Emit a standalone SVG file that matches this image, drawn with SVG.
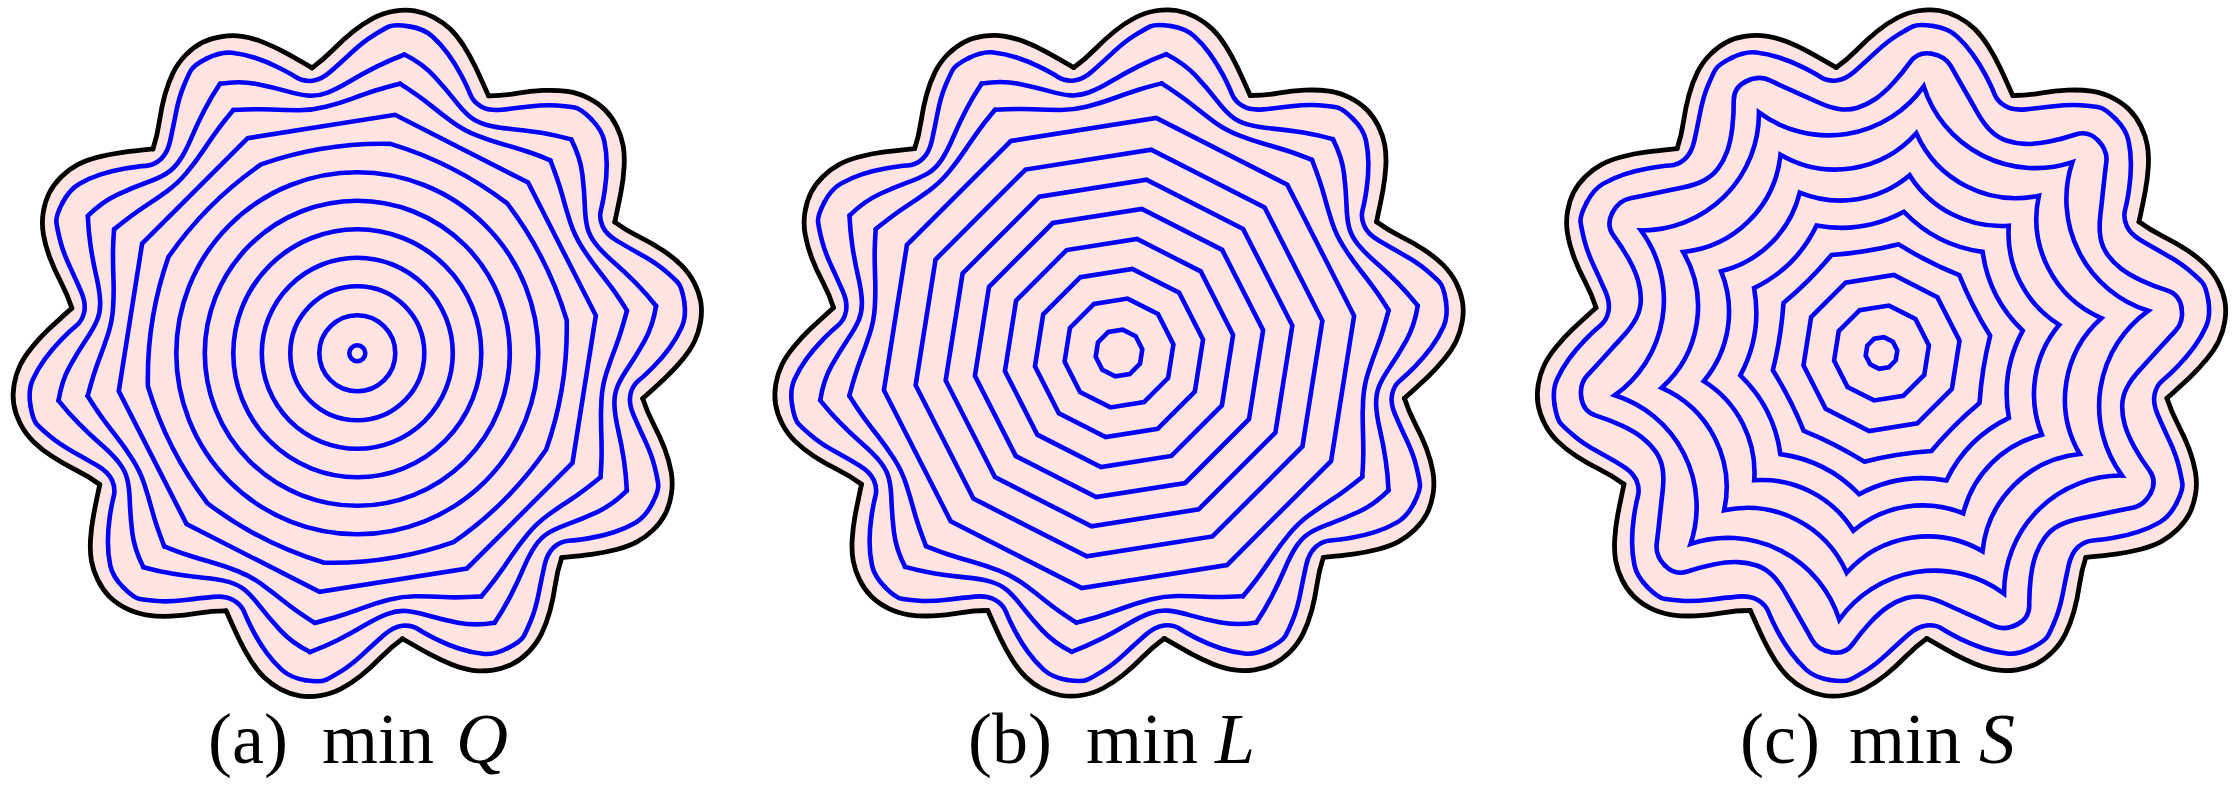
<svg xmlns="http://www.w3.org/2000/svg" width="2232" height="785" viewBox="0 0 2232 785">
<style>
.blue{fill:none;stroke:#0000ff;stroke-width:4.6;stroke-linecap:round;stroke-linejoin:round}
.blk{fill:none;stroke:#000;stroke-width:4.8;stroke-linecap:round;stroke-linejoin:round}
.pink{fill:#ffe4e1;stroke:#ffe4e1;stroke-width:1.5}
.dec{fill:none;stroke:#0000ff;stroke-linejoin:miter;stroke-miterlimit:6}
.cap{font-family:"Liberation Serif","Times New Roman",serif;font-size:72px;fill:#000}
.it{font-style:italic}
</style>
<defs>
<path id="blk" class="blk" d="M -45.21 -285.44 Q -34 -293.5 -24 -303.75 Q -14 -314 -4 -322 Q 6 -330 16 -335.25 Q 26 -340.5 37 -342.25 Q 48 -344 57.5 -342.5 Q 67 -341 76.5 -336 Q 86 -331 93 -324.25 Q 100 -317.5 106.5 -307.25 Q 113 -297 118 -286.5 Q 123 -276 131.2 -257.5"/>
<path id="wedge" class="pink" d="M 0 0 L -45.21 -285.44 Q -34 -293.5 -24 -303.75 Q -14 -314 -4 -322 Q 6 -330 16 -335.25 Q 26 -340.5 37 -342.25 Q 48 -344 57.5 -342.5 Q 67 -341 76.5 -336 Q 86 -331 93 -324.25 Q 100 -317.5 106.5 -307.25 Q 113 -297 118 -286.5 Q 123 -276 131.2 -257.5 Z"/>
<path id="b1" class="blue" d="M -150.27 -294.92 Q -136.9 -301.7 -125.45 -300.5 Q -114 -299.3 -102.35 -295.5 Q -90.7 -291.7 -79.35 -286.1 Q -68 -280.5 -61 -276 Q -54 -271.5 -45 -272.5 Q -36 -273.5 -26.65 -281.75 Q -17.3 -290 -5.65 -300.85 Q 6 -311.7 16 -317.85 Q 26 -324 31.49 -326.64 Q 36.97 -329.28 51.78 -326.93"/>
<path id="b2" class="blue" d="M -137.33 -269.53 Q -117.3 -272.7 -100.65 -269.35 Q -84 -266 -70.65 -262.15 Q -57.3 -258.3 -48.65 -257.65 Q -40 -257 -30.35 -260.5 Q -20.7 -264 -7.35 -272 Q 6 -280 19.35 -286.65 Q 32.7 -293.3 47.32 -298.78"/>
<path id="b3" class="blue" d="M -123.94 -243.25 Q -100.7 -244.5 -86.35 -243.75 Q -72 -243 -58.5 -243 Q -45 -243 -31.5 -246.5 Q -18 -250 -5 -254.75 Q 8 -259.5 18 -262.75 Q 28 -266 42.71 -269.64"/>
<path id="c2" class="blue" d="M -135.42 -271.61 Q -122.89 -277.86 -112.2 -272.83 Q -101.5 -267.8 -88.25 -261.9 Q -75 -256 -63.5 -250.75 Q -52 -245.5 -42.5 -244 Q -33 -242.5 -24 -245.25 Q -15 -248 -6.5 -253.75 Q 2 -259.5 11.5 -269.75 Q 21 -280 28.64 -290.83 Q 36.28 -301.65 50.09 -299.34"/>
<path id="deca" d="M 0.98769 -0.15643 L 0.89101 0.45399 L 0.45399 0.89101 L -0.15643 0.98769 L -0.70711 0.70711 L -0.98769 0.15643 L -0.89101 -0.45399 L -0.45399 -0.89101 L 0.15643 -0.98769 L 0.70711 -0.70711 Z"/>
<g id="fill10"><use href="#wedge"/><use href="#wedge" transform="rotate(36)"/><use href="#wedge" transform="rotate(72)"/><use href="#wedge" transform="rotate(108)"/><use href="#wedge" transform="rotate(144)"/><use href="#wedge" transform="rotate(180)"/><use href="#wedge" transform="rotate(216)"/><use href="#wedge" transform="rotate(252)"/><use href="#wedge" transform="rotate(288)"/><use href="#wedge" transform="rotate(324)"/></g>
<g id="blk10"><use href="#blk"/><use href="#blk" transform="rotate(36)"/><use href="#blk" transform="rotate(72)"/><use href="#blk" transform="rotate(108)"/><use href="#blk" transform="rotate(144)"/><use href="#blk" transform="rotate(180)"/><use href="#blk" transform="rotate(216)"/><use href="#blk" transform="rotate(252)"/><use href="#blk" transform="rotate(288)"/><use href="#blk" transform="rotate(324)"/></g>
<g id="b1x"><use href="#b1"/><use href="#b1" transform="rotate(36)"/><use href="#b1" transform="rotate(72)"/><use href="#b1" transform="rotate(108)"/><use href="#b1" transform="rotate(144)"/><use href="#b1" transform="rotate(180)"/><use href="#b1" transform="rotate(216)"/><use href="#b1" transform="rotate(252)"/><use href="#b1" transform="rotate(288)"/><use href="#b1" transform="rotate(324)"/></g>
<g id="b2x"><use href="#b2"/><use href="#b2" transform="rotate(36)"/><use href="#b2" transform="rotate(72)"/><use href="#b2" transform="rotate(108)"/><use href="#b2" transform="rotate(144)"/><use href="#b2" transform="rotate(180)"/><use href="#b2" transform="rotate(216)"/><use href="#b2" transform="rotate(252)"/><use href="#b2" transform="rotate(288)"/><use href="#b2" transform="rotate(324)"/></g>
<g id="b3x"><use href="#b3"/><use href="#b3" transform="rotate(36)"/><use href="#b3" transform="rotate(72)"/><use href="#b3" transform="rotate(108)"/><use href="#b3" transform="rotate(144)"/><use href="#b3" transform="rotate(180)"/><use href="#b3" transform="rotate(216)"/><use href="#b3" transform="rotate(252)"/><use href="#b3" transform="rotate(288)"/><use href="#b3" transform="rotate(324)"/></g>
<g id="c2x"><use href="#c2"/><use href="#c2" transform="rotate(36)"/><use href="#c2" transform="rotate(72)"/><use href="#c2" transform="rotate(108)"/><use href="#c2" transform="rotate(144)"/><use href="#c2" transform="rotate(180)"/><use href="#c2" transform="rotate(216)"/><use href="#c2" transform="rotate(252)"/><use href="#c2" transform="rotate(288)"/><use href="#c2" transform="rotate(324)"/></g>
</defs>
<rect width="2232" height="785" fill="#fff"/>

<g id="panel-a" transform="translate(357.3,353.3)">
<use href="#fill10"/>
<g id="a-rings">
<circle class="blue" r="8"/>
<circle class="blue" r="38"/>
<circle class="blue" r="67"/>
<circle class="blue" r="95.5"/>
<circle class="blue" r="124"/>
<circle class="blue" r="152.5"/>
<circle class="blue" r="181"/>
<path class="dec" transform="scale(212)" stroke-width="0.021698" d="M 0.98769 -0.15643 A 1.7288 1.7288 0 0 1 0.89101 0.45399 A 1.7288 1.7288 0 0 1 0.45399 0.89101 A 1.7288 1.7288 0 0 1 -0.15643 0.98769 A 1.7288 1.7288 0 0 1 -0.70711 0.70711 A 1.7288 1.7288 0 0 1 -0.98769 0.15643 A 1.7288 1.7288 0 0 1 -0.89101 -0.45399 A 1.7288 1.7288 0 0 1 -0.45399 -0.89101 A 1.7288 1.7288 0 0 1 0.15643 -0.98769 A 1.7288 1.7288 0 0 1 0.70711 -0.70711 A 1.7288 1.7288 0 0 1 0.98769 -0.15643 Z"/>
<use href="#deca" class="dec" transform="scale(241.5)" stroke-width="0.019048"/>
<use href="#b3x"/>
<use href="#b2x"/>
<use href="#b1x"/>
</g>
<use href="#blk10"/>
</g>

<g id="panel-b" transform="translate(1119,353)">
<use href="#fill10"/>
<g id="b-rings">
<use href="#deca" class="dec" transform="scale(23.6)" stroke-width="0.19492"/>
<use href="#deca" class="dec" transform="scale(55.1)" stroke-width="0.083485"/>
<use href="#deca" class="dec" transform="scale(85.1)" stroke-width="0.054054"/>
<use href="#deca" class="dec" transform="scale(115.5)" stroke-width="0.039827"/>
<use href="#deca" class="dec" transform="scale(145.9)" stroke-width="0.031528"/>
<use href="#deca" class="dec" transform="scale(175.5)" stroke-width="0.026211"/>
<use href="#deca" class="dec" transform="scale(205.9)" stroke-width="0.022341"/>
<use href="#deca" class="dec" transform="scale(238)" stroke-width="0.019328"/>
<use href="#b3x"/>
<use href="#b2x"/>
<use href="#b1x"/>
</g>
<use href="#blk10"/>
</g>

<g id="panel-c" transform="translate(1881.5,353)">
<use href="#fill10"/>
<g id="c-rings">
<use href="#deca" class="dec" transform="scale(16)" stroke-width="0.2875"/>
<use href="#deca" class="dec" transform="scale(48)" stroke-width="0.095833"/>
<use href="#deca" class="dec" transform="scale(79)" stroke-width="0.058228"/>
<path class="dec" transform="scale(110)" stroke-width="0.041818" d="M 0.98769 -0.15643 A 3.5082 3.5082 0 0 0 0.89101 0.45399 A 3.5082 3.5082 0 0 0 0.45399 0.89101 A 3.5082 3.5082 0 0 0 -0.15643 0.98769 A 3.5082 3.5082 0 0 0 -0.70711 0.70711 A 3.5082 3.5082 0 0 0 -0.98769 0.15643 A 3.5082 3.5082 0 0 0 -0.89101 -0.45399 A 3.5082 3.5082 0 0 0 -0.45399 -0.89101 A 3.5082 3.5082 0 0 0 0.15643 -0.98769 A 3.5082 3.5082 0 0 0 0.70711 -0.70711 A 3.5082 3.5082 0 0 0 0.98769 -0.15643 Z"/>
<path class="dec" transform="scale(143)" stroke-width="0.032168" d="M 0.98769 -0.15643 A 0.93658 0.93658 0 0 0 0.89101 0.45399 A 0.93658 0.93658 0 0 0 0.45399 0.89101 A 0.93658 0.93658 0 0 0 -0.15643 0.98769 A 0.93658 0.93658 0 0 0 -0.70711 0.70711 A 0.93658 0.93658 0 0 0 -0.98769 0.15643 A 0.93658 0.93658 0 0 0 -0.89101 -0.45399 A 0.93658 0.93658 0 0 0 -0.45399 -0.89101 A 0.93658 0.93658 0 0 0 0.15643 -0.98769 A 0.93658 0.93658 0 0 0 0.70711 -0.70711 A 0.93658 0.93658 0 0 0 0.98769 -0.15643 Z"/>
<path class="dec" transform="scale(180)" stroke-width="0.025556" d="M 0.98769 -0.15643 A 0.59752 0.59752 0 0 0 0.89101 0.45399 A 0.59752 0.59752 0 0 0 0.45399 0.89101 A 0.59752 0.59752 0 0 0 -0.15643 0.98769 A 0.59752 0.59752 0 0 0 -0.70711 0.70711 A 0.59752 0.59752 0 0 0 -0.98769 0.15643 A 0.59752 0.59752 0 0 0 -0.89101 -0.45399 A 0.59752 0.59752 0 0 0 -0.45399 -0.89101 A 0.59752 0.59752 0 0 0 0.15643 -0.98769 A 0.59752 0.59752 0 0 0 0.70711 -0.70711 A 0.59752 0.59752 0 0 0 0.98769 -0.15643 Z"/>
<path class="dec" transform="scale(222.5)" stroke-width="0.020674" d="M 0.98769 -0.15643 A 0.48867 0.48867 0 0 0 0.89101 0.45399 A 0.48867 0.48867 0 0 0 0.45399 0.89101 A 0.48867 0.48867 0 0 0 -0.15643 0.98769 A 0.48867 0.48867 0 0 0 -0.70711 0.70711 A 0.48867 0.48867 0 0 0 -0.98769 0.15643 A 0.48867 0.48867 0 0 0 -0.89101 -0.45399 A 0.48867 0.48867 0 0 0 -0.45399 -0.89101 A 0.48867 0.48867 0 0 0 0.15643 -0.98769 A 0.48867 0.48867 0 0 0 0.70711 -0.70711 A 0.48867 0.48867 0 0 0 0.98769 -0.15643 Z"/>
<path class="dec" transform="scale(270)" stroke-width="0.017037" d="M 0.98769 -0.15643 A 0.43314 0.43314 0 0 0 0.89101 0.45399 A 0.43314 0.43314 0 0 0 0.45399 0.89101 A 0.43314 0.43314 0 0 0 -0.15643 0.98769 A 0.43314 0.43314 0 0 0 -0.70711 0.70711 A 0.43314 0.43314 0 0 0 -0.98769 0.15643 A 0.43314 0.43314 0 0 0 -0.89101 -0.45399 A 0.43314 0.43314 0 0 0 -0.45399 -0.89101 A 0.43314 0.43314 0 0 0 0.15643 -0.98769 A 0.43314 0.43314 0 0 0 0.70711 -0.70711 A 0.43314 0.43314 0 0 0 0.98769 -0.15643 Z"/>
<use href="#c2x"/>
<use href="#b1x"/>
</g>
<use href="#blk10"/>
</g>

<g id="captions">
<text class="cap" y="763"><tspan x="208">(a)</tspan><tspan x="322">min</tspan><tspan class="it" x="456">Q</tspan></text>
<text class="cap" y="763"><tspan x="968">(b)</tspan><tspan x="1086">min</tspan><tspan class="it" x="1215">L</tspan></text>
<text class="cap" y="763"><tspan x="1740">(c)</tspan><tspan x="1849">min</tspan><tspan class="it" x="1979">S</tspan></text>
</g>
</svg>
